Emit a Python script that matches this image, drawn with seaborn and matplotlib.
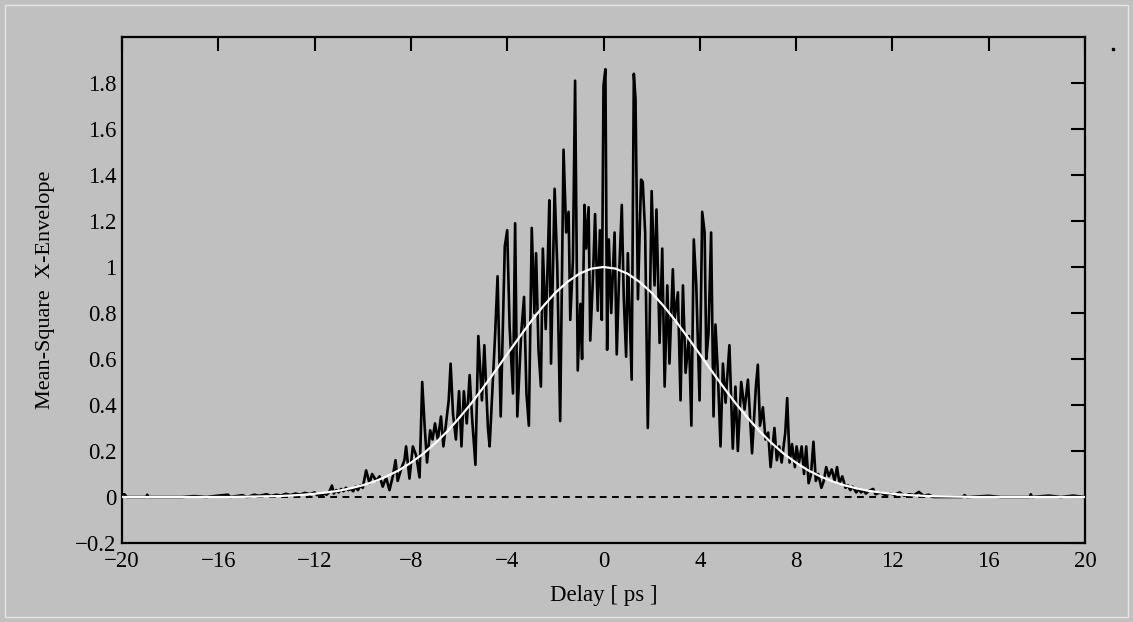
import numpy as np
import pandas as pd
import matplotlib
matplotlib.use("Agg")
import matplotlib.pyplot as plt
from matplotlib.patches import Rectangle
from matplotlib.lines import Line2D
import seaborn as sns

# ---------------- data ----------------
delay_noisy = [
    -20.0, -19.9, -19.8, -19.0, -18.95, -18.9, -17.5, -17.0, -16.5, -16.0, -15.6, -15.5,
    -15.0, -14.8, -14.5, -14.3, -14.0, -13.8, -13.6, -13.4, -13.2, -13.0, -12.8, -12.6,
    -12.4, -12.2, -12.0, -11.9, -11.8, -11.7, -11.6, -11.5, -11.4, -11.28, -11.2, -11.1,
    -11.0, -10.9, -10.8, -10.7, -10.6, -10.5, -10.4, -10.3, -10.2, -10.1, -10.0, -9.86,
    -9.72, -9.61, -9.44, -9.3, -9.17, -9.03, -8.89, -8.75, -8.64, -8.55, -8.41, -8.27,
    -8.2, -8.06, -7.92, -7.78, -7.64, -7.53, -7.43, -7.33, -7.2, -7.1, -7.0, -6.88,
    -6.75, -6.65, -6.54, -6.43, -6.35, -6.25, -6.13, -6.0, -5.9, -5.8, -5.68, -5.56,
    -5.45, -5.32, -5.2, -5.05, -4.95, -4.8, -4.73, -4.6, -4.5, -4.4, -4.27, -4.1,
    -4.0, -3.9, -3.76, -3.67, -3.58, -3.42, -3.3, -3.2, -3.1, -2.98, -2.87, -2.8,
    -2.7, -2.6, -2.52, -2.4, -2.3, -2.25, -2.18, -2.03, -1.92, -1.8, -1.66, -1.55,
    -1.45, -1.38, -1.27, -1.18, -1.07, -0.96, -0.89, -0.79, -0.72, -0.62, -0.55, -0.44,
    -0.35, -0.24, -0.15, -0.07, 0.0, 0.08, 0.15, 0.22, 0.32, 0.46, 0.55, 0.66,
    0.76, 0.84, 0.94, 1.01, 1.17, 1.26, 1.33, 1.43, 1.56, 1.63, 1.73, 1.84,
    1.91, 2.0, 2.12, 2.2, 2.33, 2.44, 2.54, 2.65, 2.74, 2.88, 2.95, 3.09,
    3.2, 3.3, 3.41, 3.55, 3.65, 3.75, 3.85, 3.99, 4.1, 4.2, 4.27, 4.36,
    4.47, 4.57, 4.65, 4.75, 4.86, 4.96, 5.07, 5.23, 5.37, 5.48, 5.58, 5.72,
    5.86, 6.0, 6.17, 6.33, 6.41, 6.5, 6.62, 6.73, 6.84, 6.94, 7.1, 7.2,
    7.3, 7.4, 7.55, 7.63, 7.73, 7.83, 7.95, 8.02, 8.12, 8.23, 8.33, 8.42,
    8.52, 8.62, 8.72, 8.82, 8.92, 9.05, 9.15, 9.25, 9.36, 9.48, 9.6, 9.7,
    9.8, 9.92, 10.05, 10.15, 10.25, 10.35, 10.5, 10.6, 10.7, 10.8, 10.9, 11.0,
    11.2, 11.3, 11.5, 11.7, 11.9, 12.1, 12.3, 12.5, 12.7, 12.9, 13.1, 13.3,
    13.5, 13.7, 14.9, 15.0, 15.1, 16.0, 16.5, 17.7, 17.75, 17.8, 18.5, 19.0,
    19.5, 20.0,
]
envelope_noisy = [
    0.01, 0.012, 0.0, 0.0, 0.01, 0.0, 0.0, 0.004, 0.0, 0.006, 0.01, 0.0,
    0.008, 0.0, 0.01, 0.005, 0.012, 0.004, 0.01, 0.006, 0.014, 0.008, 0.015, 0.01,
    0.018, 0.012, 0.02, 0.008, 0.012, 0.005, 0.015, 0.01, 0.02, 0.05, 0.015, 0.03,
    0.02, 0.035, 0.025, 0.04, 0.03, 0.035, 0.025, 0.045, 0.03, 0.05, 0.04, 0.116,
    0.06, 0.10, 0.07, 0.09, 0.045, 0.085, 0.03, 0.09, 0.16, 0.07, 0.12, 0.16,
    0.22, 0.08, 0.22, 0.18, 0.085, 0.50, 0.31, 0.15, 0.29, 0.25, 0.32, 0.25,
    0.35, 0.22, 0.32, 0.42, 0.58, 0.36, 0.25, 0.46, 0.22, 0.46, 0.32, 0.53,
    0.33, 0.14, 0.70, 0.42, 0.66, 0.30, 0.22, 0.50, 0.71, 0.96, 0.35, 1.09,
    1.16, 0.74, 0.45, 1.19, 0.35, 0.71, 0.87, 0.45, 0.31, 1.17, 0.80, 1.06,
    0.64, 0.48, 1.08, 0.73, 1.08, 1.29, 0.58, 1.34, 1.00, 0.33, 1.51, 1.15,
    1.24, 0.77, 1.03, 1.81, 0.55, 0.84, 0.60, 1.27, 1.08, 1.26, 0.68, 0.95,
    1.23, 0.81, 1.16, 0.77, 1.79, 1.86, 0.64, 1.12, 0.80, 1.15, 0.62, 1.00,
    1.27, 0.87, 0.61, 1.06, 0.51, 1.84, 1.73, 0.86, 1.38, 1.37, 1.15, 0.30,
    0.71, 1.33, 0.92, 1.25, 0.67, 1.08, 0.48, 0.92, 0.58, 0.99, 0.77, 0.89,
    0.42, 0.92, 0.54, 0.70, 0.31, 1.12, 0.93, 0.42, 1.24, 1.15, 0.60, 0.71,
    1.15, 0.35, 0.75, 0.54, 0.22, 0.58, 0.41, 0.66, 0.21, 0.48, 0.20, 0.50,
    0.38, 0.51, 0.19, 0.48, 0.575, 0.31, 0.39, 0.25, 0.28, 0.13, 0.30, 0.16,
    0.22, 0.15, 0.28, 0.43, 0.15, 0.23, 0.13, 0.22, 0.15, 0.22, 0.10, 0.22,
    0.06, 0.10, 0.24, 0.07, 0.10, 0.04, 0.07, 0.13, 0.09, 0.12, 0.07, 0.13,
    0.06, 0.09, 0.04, 0.05, 0.03, 0.045, 0.02, 0.035, 0.02, 0.03, 0.015, 0.025,
    0.035, 0.012, 0.02, 0.008, 0.015, 0.01, 0.02, 0.005, 0.012, 0.008, 0.022, 0.005,
    0.01, 0.0, 0.0, 0.008, 0.0, 0.005, 0.0, 0.0, 0.012, 0.0, 0.006, 0.0,
    0.006, 0.0,
]

delay_fit = [
    -20.0, -19.5, -19.0, -18.5, -18.0, -17.5, -17.0, -16.5, -16.0, -15.5, -15.0, -14.5,
    -14.0, -13.5, -13.0, -12.5, -12.0, -11.5, -11.0, -10.5, -10.0, -9.5, -9.0, -8.5,
    -8.0, -7.5, -7.0, -6.5, -6.0, -5.5, -5.0, -4.5, -4.0, -3.5, -3.0, -2.5,
    -2.0, -1.5, -1.0, -0.5, 0.0, 0.5, 1.0, 1.5, 2.0, 2.5, 3.0, 3.5,
    4.0, 4.5, 5.0, 5.5, 6.0, 6.5, 7.0, 7.5, 8.0, 8.5, 9.0, 9.5,
    10.0, 10.5, 11.0, 11.5, 12.0, 12.5, 13.0, 13.5, 14.0, 14.5, 15.0, 15.5,
    16.0, 16.5, 17.0, 17.5, 18.0, 18.5, 19.0, 19.5, 20.0,
]
envelope_fit = [
    0.0, 0.0, 0.0, 0.0, 0.0, 0.0, 0.0, 0.0, 0.0, 0.0, 0.001, 0.002,
    0.003, 0.004, 0.0065, 0.0096, 0.014, 0.020, 0.027, 0.038, 0.051, 0.068, 0.090, 0.116,
    0.149, 0.187, 0.233, 0.284, 0.343, 0.406, 0.475, 0.547, 0.621, 0.694, 0.765, 0.830,
    0.888, 0.935, 0.971, 0.993, 1.000, 0.993, 0.971, 0.935, 0.888, 0.830, 0.765, 0.694,
    0.621, 0.547, 0.475, 0.406, 0.343, 0.284, 0.233, 0.187, 0.149, 0.116, 0.090, 0.068,
    0.051, 0.038, 0.027, 0.020, 0.014, 0.0096, 0.0065, 0.004, 0.003, 0.002, 0.001, 0.0,
    0.0, 0.0, 0.0, 0.0, 0.0, 0.0, 0.0, 0.0, 0.0,
]

x_ticks = [-20, -16, -12, -8, -4, 0, 4, 8, 12, 16, 20]
y_ticks = [-0.2, 0, 0.2, 0.4, 0.6, 0.8, 1, 1.2, 1.4, 1.6, 1.8]
y_tick_labels = ["\u22120.2", "0", "0.2", "0.4", "0.6", "0.8", "1", "1.2", "1.4", "1.6", "1.8"]
x_tick_labels = ["\u221220", "\u221216", "\u221212", "\u22128", "\u22124", "0", "4", "8", "12", "16", "20"]

# ---------------- plotting ----------------
sns.set_style("white")
plt.rcParams["font.family"] = ["Liberation Serif", "DejaVu Serif"]
plt.rcParams["text.color"] = "black"
plt.rcParams["axes.labelcolor"] = "black"

BG = "#c0c0c0"
fig = plt.figure(figsize=(11.33, 6.22), dpi=100, facecolor=BG)
ax = fig.add_axes([122 / 1133, 1 - 543 / 622, (1085 - 122) / 1133, (543 - 37) / 622])
ax.set_facecolor(BG)

df_noisy = pd.DataFrame({"delay": delay_noisy, "env": envelope_noisy})
df_fit = pd.DataFrame({"delay": delay_fit, "env": envelope_fit})

ax.axhline(0, color="black", lw=1.4, ls=(0, (3.5, 2.8)), zorder=1)
sns.lineplot(data=df_noisy, x="delay", y="env", ax=ax, color="black", lw=1.9,
             estimator=None, sort=False, zorder=2)
sns.lineplot(data=df_fit, x="delay", y="env", ax=ax, color="white", lw=1.6,
             estimator=None, sort=False, zorder=3)

ax.set_xlim(-20, 20)
ax.set_ylim(-0.2, 2.0)
ax.set_xticks(x_ticks)
ax.set_xticklabels(x_tick_labels)
ax.set_yticks(y_ticks)
ax.set_yticklabels(y_tick_labels)
ax.tick_params(direction="in", length=10, width=1.5, top=True, right=True,
               labeltop=False, labelright=False, labelsize=16.5, colors="black",
               labelcolor="black", pad=4)
ax.tick_params(axis="x", pad=6)
for sp in ax.spines.values():
    sp.set_visible(True)
    sp.set_color("black")
    sp.set_linewidth(1.6)

ax.set_xlabel("Delay [ ps ]", fontsize=16.5, color="black")
ax.set_ylabel("Mean-Square  X-Envelope", fontsize=16, color="black")
ax.xaxis.set_label_coords(0.5, -0.083)
ax.yaxis.set_label_coords(-0.07, 0.5)

# light frame around the figure and the small stray dot
fig.patches.append(Rectangle((5 / 1133, 5 / 622), 1 - 10 / 1133, 1 - 10 / 622,
                             transform=fig.transFigure, fill=False,
                             edgecolor="#e6e6e6", lw=1.0))
fig.lines.append(Line2D([1113 / 1133], [1 - 49 / 622], transform=fig.transFigure,
                        marker="s", markersize=2, color="black", lw=0))

fig.savefig("out.png", dpi=100, facecolor=BG)
